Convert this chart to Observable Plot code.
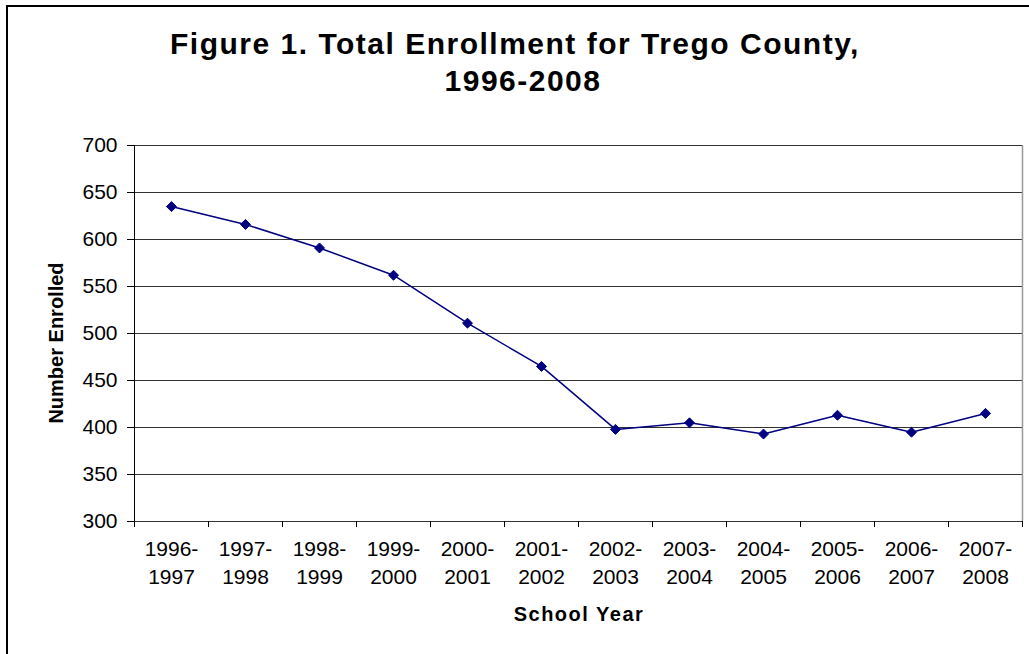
<!DOCTYPE html>
<html>
<head>
<meta charset="utf-8">
<script src="https://cdn.jsdelivr.net/npm/d3@7"></script>
<script src="https://cdn.jsdelivr.net/npm/@observablehq/plot@0.6"></script>
<style>
  html, body { margin: 0; padding: 0; background: #fff; }
  #wrap { position: relative; width: 1029px; height: 654px; overflow: hidden; font-family: "Liberation Sans", Arial, sans-serif; }
  #border { position: absolute; left: 6px; top: 5px; width: 2000px; height: 2000px; border-left: 2px solid #000; border-top: 2px solid #000; }
  #title { position: absolute; left: 0; width: 1030px; top: 25px; text-align: center; font-weight: bold; font-size: 30px; line-height: 37px; letter-spacing: 1.5px; color: #000; }
  #title .l2 { position: relative; left: 8px; }
  #xlabel { position: absolute; left: 0; width: 1158px; top: 604px; text-align: center; font-weight: bold; font-size: 20px; line-height: 20px; letter-spacing: 1.5px; }
  #ylabel { position: absolute; left: 56px; top: 343px; transform: translate(-50%, -50%) rotate(-90deg); white-space: nowrap; font-weight: bold; font-size: 20px; line-height: 20px; }
  #chart { position: absolute; left: 0; top: 0; }
</style>
</head>
<body>
<div id="wrap">
  <div id="chart"></div>
  <div id="border"></div>
  <div id="title">Figure 1. Total Enrollment for Trego County,<br><span class="l2">1996-2008</span></div>
  <div id="xlabel">School Year</div>
  <div id="ylabel">Number Enrolled</div>
</div>
<script>
const schoolYears = ["1996-1997","1997-1998","1998-1999","1999-2000","2000-2001","2001-2002","2002-2003","2003-2004","2004-2005","2005-2006","2006-2007","2007-2008"];
const enrolled = [635, 616, 591, 562, 511, 465, 398, 405, 393, 413, 395, 415];
const yTicks = [300, 350, 400, 450, 500, 550, 600, 650, 700];

const n = schoolYears.length;
const data = schoolYears.map((s, i) => ({i, year: s, value: enrolled[i]}));
const idx = d3.range(n);
const bounds = d3.range(n + 1).map(i => i - 0.5);
const yMin = d3.min(yTicks), yMax = d3.max(yTicks);

const chart = Plot.plot({
  width: 1029,
  height: 654,
  marginLeft: 134,
  marginRight: 7,
  marginTop: 145,
  marginBottom: 133,
  style: {fontFamily: "Liberation Sans, Arial, sans-serif", fontSize: "21px", color: "#000", background: "transparent"},
  x: {type: "linear", domain: [-0.5, n - 0.5]},
  y: {domain: [yMin, yMax]},
  marks: [
    Plot.ruleY(yTicks, {stroke: "#333", strokeWidth: 1}),
    Plot.ruleX([n - 0.5], {y1: yMin, y2: yMax, stroke: "#999", strokeWidth: 1.5}),
    Plot.ruleX([-0.5], {y1: yMin, y2: yMax, stroke: "#000", strokeWidth: 1}),
    Plot.axisY(yTicks, {tickSize: 7, tickPadding: 10, tickFormat: d => String(d), label: null, stroke: "#000", fill: "#000", fontSize: 21}),
    Plot.axisX(bounds, {tickSize: 6, tickFormat: () => "", label: null, stroke: "#000"}),
    Plot.axisX(idx, {tickSize: 0, tickPadding: 15, lineHeight: 1.33, tickFormat: i => schoolYears[i].replace("-", "-\n"), label: null, fill: "#000", fontSize: 21}),
    Plot.line(data, {x: "i", y: "value", stroke: "#000080", strokeWidth: 1.5}),
    Plot.dot(data, {x: "i", y: "value", symbol: "diamond2", r: 4.5, fill: "#000080", stroke: "#000080", strokeWidth: 1})
  ]
});
document.getElementById("chart").appendChild(chart);
</script>
</body>
</html>
